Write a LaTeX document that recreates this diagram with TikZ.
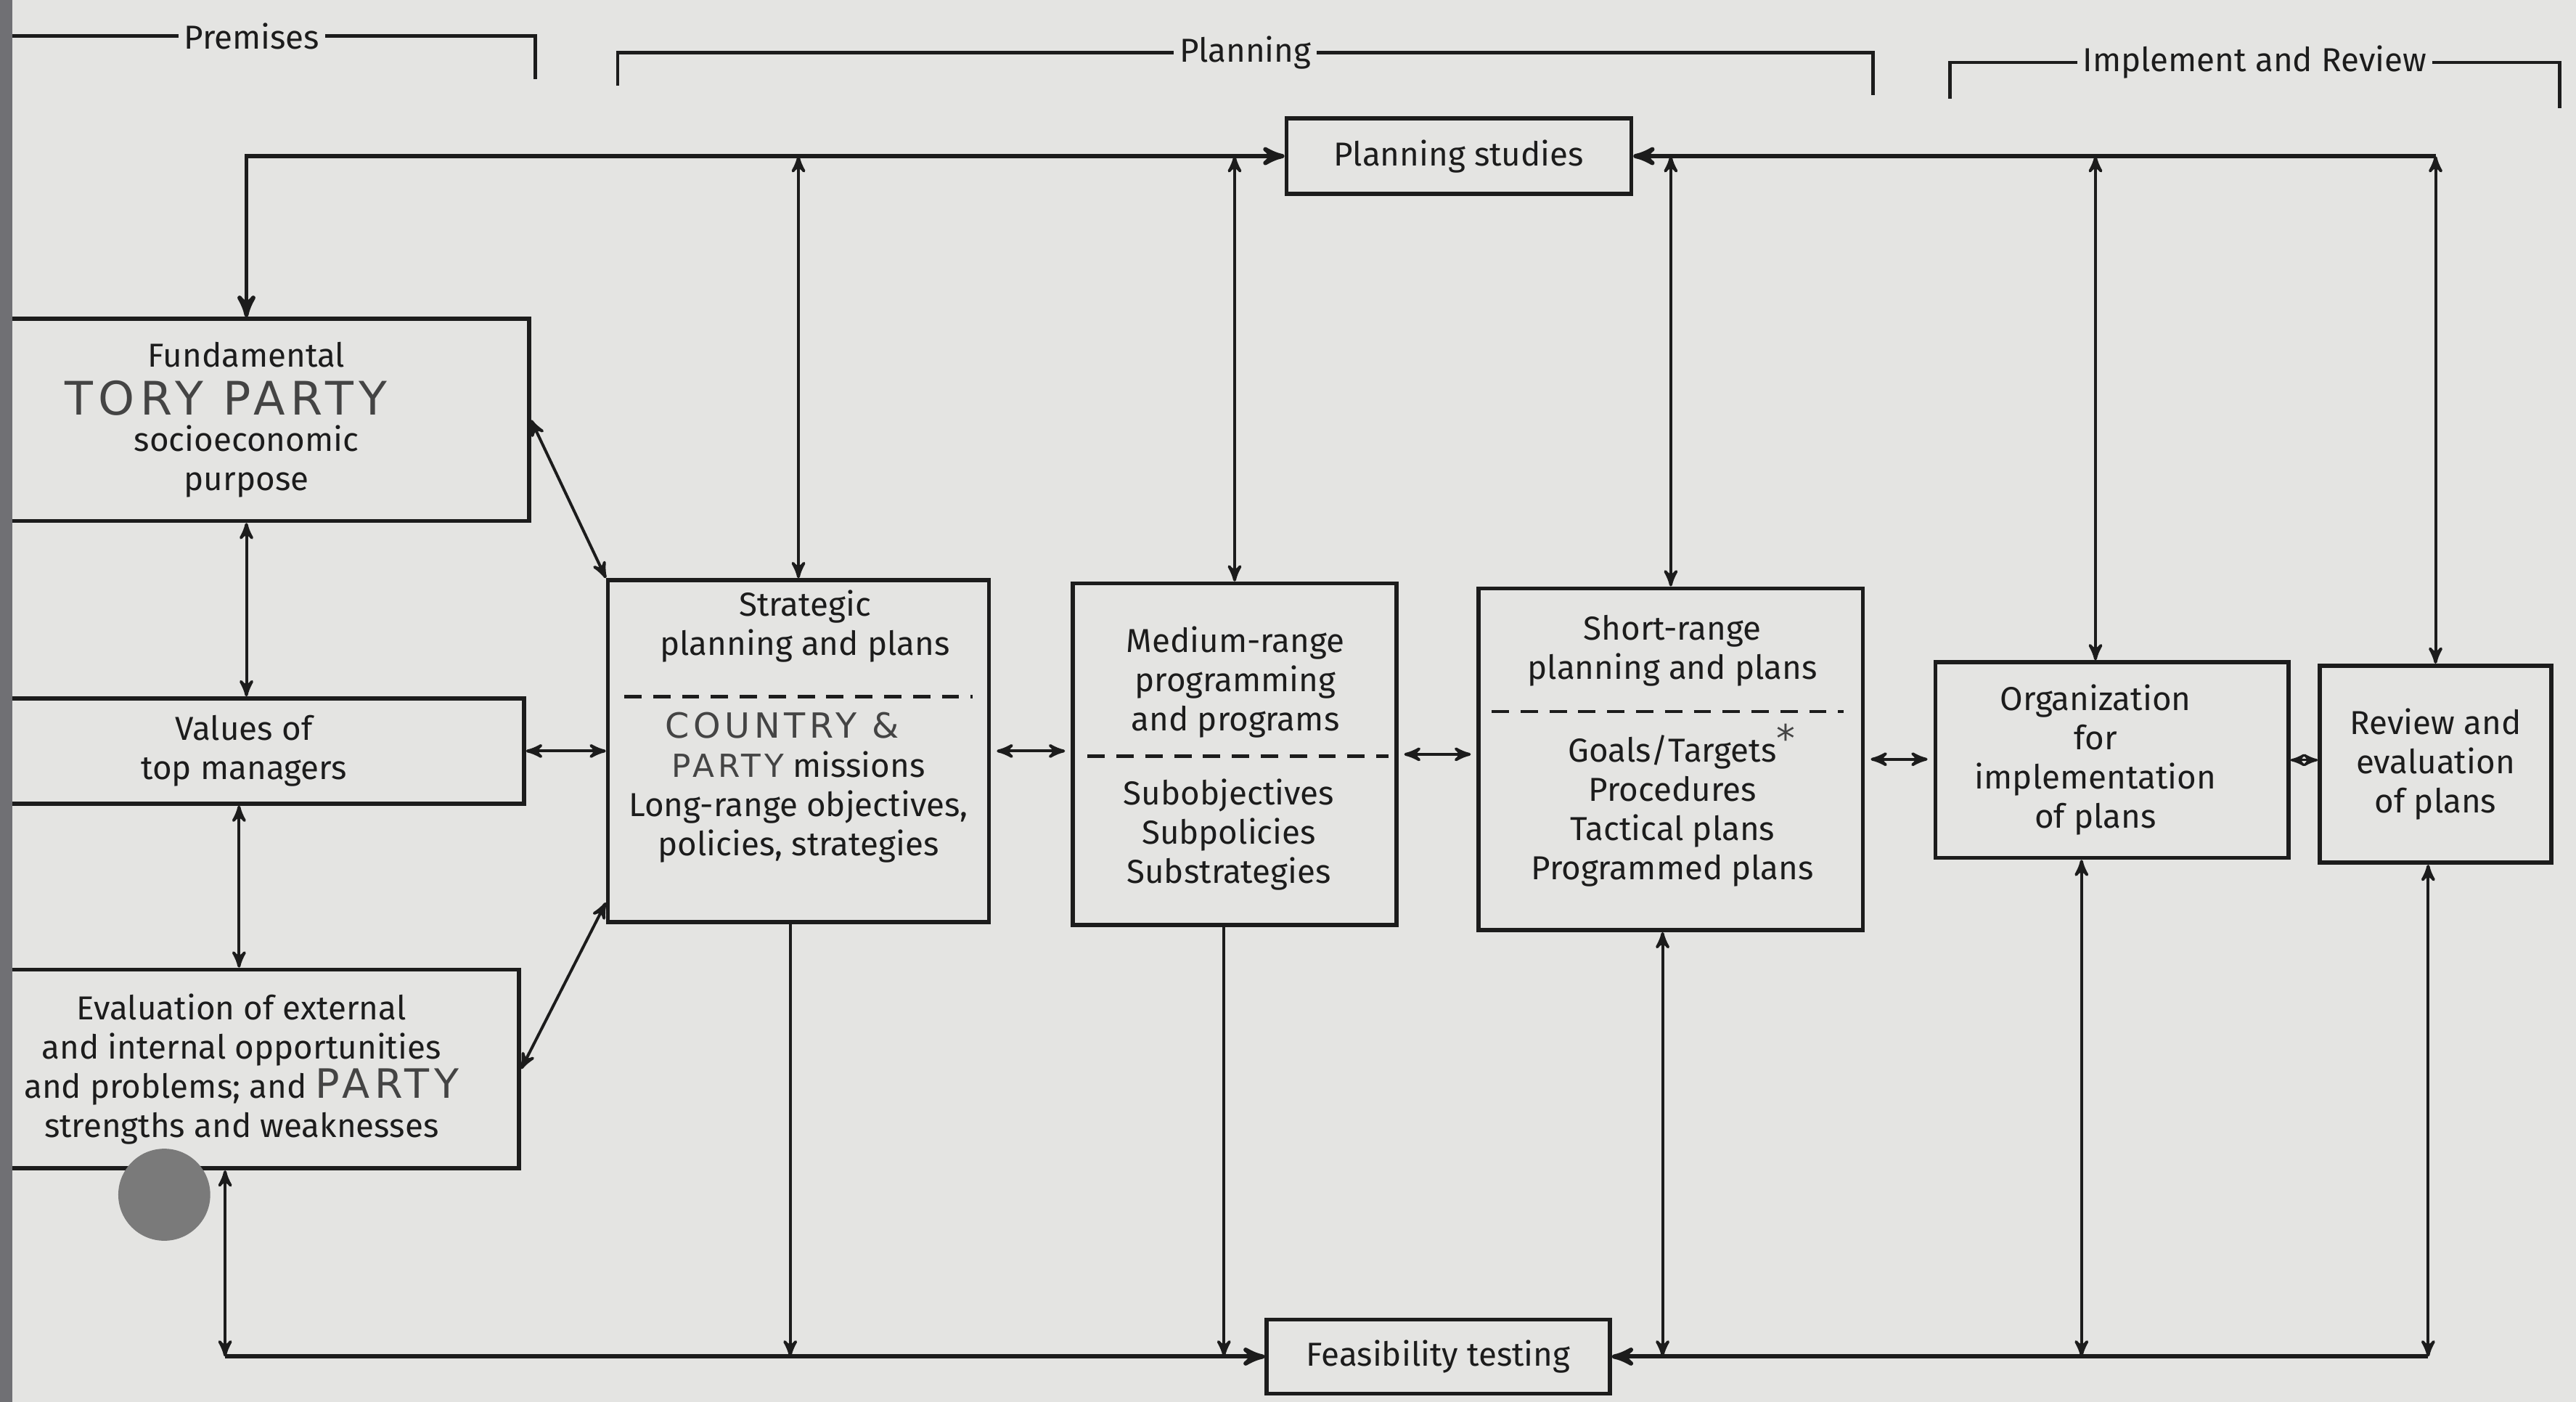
\documentclass[tikz,border=0pt]{standalone}
\usepackage{fontspec}
\setmainfont{Fira Sans}
\newfontfamily\handfont[LetterSpace=12]{DejaVu Sans}
\usepackage{tikz}
\usetikzlibrary{positioning, calc, shapes, arrows}

\definecolor{paper}{HTML}{E4E4E2}
\definecolor{scanedge}{HTML}{707074}
\definecolor{punch}{HTML}{7A7A7A}
\definecolor{ink}{HTML}{1C1C1C}
\definecolor{pencil}{HTML}{444444}

% pencilled words on the printed chart
\newcommand{\hand}[2][14]{{\handfont\fontsize{#1}{#1}\selectfont\color{pencil}#2}}

\begin{document}
\begin{tikzpicture}[x=0.02cm, y=-0.02cm, >=stealth', line width=1pt, color=ink,
  box/.style={draw=ink, line width=1.4pt, rectangle, align=center, inner sep=0pt,
    font=\fontsize{11.5}{13.6}\selectfont},
  txt/.style={align=center, inner sep=0pt, font=\fontsize{11.5}{13.6}\selectfont},
  bus/.style={line width=1.5pt},
  divider/.style={line width=1.2pt, dash pattern=on 6pt off 4pt},
  bracket/.style={line width=1.2pt},
  blabel/.style={fill=paper, inner sep=2pt, font=\fontsize{11.5}{13.6}\selectfont}]

  \fill[paper] (0,0) rectangle (1568,853);
  \useasboundingbox (0,0) rectangle (1568,853);
  \clip (0,0) rectangle (1568,853);

  % premises column
  \node[box, minimum width=6.88cm, minimum height=2.46cm] (fund) at (150,255.5)
    {Fundamental\\[3pt]\smash{\hand[16]{TORY PARTY}}\rule{0.5cm}{0pt}\\[-1pt]socioeconomic\\purpose};
  \node[box, minimum width=6.82cm, minimum height=1.28cm] (vals) at (148.5,457)
    {Values of\\top managers};
  \node[box, minimum width=6.76cm, minimum height=2.42cm] (eval) at (147,650.5)
    {Evaluation of external\\and internal opportunities\\and problems; and \smash{\hand[14]{PARTY}}\\strengths and weaknesses};

  % planning boxes
  \node[box, minimum width=4.2cm, minimum height=0.92cm] (pstud) at (888,95) {Planning studies};
  \node[box, minimum width=4.18cm, minimum height=0.9cm] (feas) at (875.5,825.5) {Feasibility testing};

  \node[box, minimum width=4.64cm, minimum height=4.16cm] (strat) at (486,457) {};
  \node[txt] (strattop) at (490,381) {Strategic\\planning and plans};
  \node[txt] (stratbot) at (486,487) {\smash{\hand[12]{COUNTRY \&}}\rule{0.4cm}{0pt}\\\smash{\hand[11]{PARTY}} missions\\Long-range objectives,\\policies, strategies};
  \draw[divider] (380,424) -- (592,424);

  \node[box, minimum width=3.94cm, minimum height=4.16cm] (med) at (751.5,459) {};
  \node[txt] (medtop) at (752,415) {Medium-range\\programming\\and programs};
  \node[txt] (medbot) at (748,508) {Subobjectives\\Subpolicies\\Substrategies};
  \draw[divider] (662,460) -- (845,460);

  \node[box, minimum width=4.68cm, minimum height=4.16cm] (short) at (1017,462) {};
  \node[txt] (shorttop) at (1018,396) {Short-range\\planning and plans};
  \node[txt] (shortbot) at (1018,490) {Goals/Targets\rlap{\raisebox{0.6ex}{\hand[13]{*}}}\\Procedures\\Tactical plans\\Programmed plans};
  \draw[divider] (908,433) -- (1122,433);

  % implement and review
  \node[box, minimum width=4.3cm, minimum height=2.38cm] (org) at (1285.5,462.5)
    {Organization\rule{0.4cm}{0pt}\\for\rule{0.4cm}{0pt}\\implementation\rule{0.4cm}{0pt}\\of plans\rule{0.4cm}{0pt}};
  \node[box, minimum width=2.82cm, minimum height=2.4cm] (rev) at (1482.5,465)
    {Review and\\evaluation\\of plans};

  % headings
  \draw[bracket] (0,22) -- node[blabel, pos=0.47] (premlbl) {Premises} (326,22) -- (326,48);
  \draw[bracket] (376,52) -- (376,32) -- node[blabel] (planlbl) {Planning} (1140,32) -- (1140,58);
  \draw[bracket] (1187,60) -- (1187,38) -- node[blabel] (implbl) {Implement and Review} (1558,38) -- (1558,66);

  % top bus
  \coordinate (orgtop) at ([xshift=-0.2cm]org.north);
  \draw[bus,<->] (pstud.west) -| (fund.north);
  \draw[bus,->] (rev.north |- pstud.east) -- (pstud.east);
  \draw[<->] (rev.north |- pstud.east) -- (rev.north);
  \path[<->]
    (strat.north |- pstud.west) edge (strat.north)
    (med.north |- pstud.west) edge (med.north)
    (short.north |- pstud.east) edge (short.north)
    (orgtop |- pstud.east) edge (orgtop);

  % bottom bus
  \coordinate (evalfoot) at ([xshift=-0.2cm]eval.south);
  \coordinate (stratfoot) at ([xshift=-0.1cm]strat.south);
  \coordinate (medfoot) at ([xshift=-0.13cm]med.south);
  \coordinate (shortfoot) at ([xshift=-0.1cm]short.south);
  \coordinate (orgfoot) at ([xshift=-0.37cm]org.south);
  \coordinate (revfoot) at ([xshift=-0.09cm]rev.south);
  \draw[bus,->] (evalfoot |- feas.west) -- (feas.west);
  \draw[<->] (evalfoot |- feas.west) -- (evalfoot);
  \draw[->] (stratfoot) -- (stratfoot |- feas.west);
  \draw[->] (medfoot) -- (medfoot |- feas.west);
  \draw[bus,->] (revfoot |- feas.east) -- (feas.east);
  \path[<->]
    (shortfoot) edge (shortfoot |- feas.east)
    (orgfoot) edge (orgfoot |- feas.east)
    (revfoot) edge (revfoot |- feas.east);

  % links between boxes
  \coordinate (valsfoot) at ([xshift=-0.06cm]vals.south);
  \path[<->]
    (fund.south) edge (fund.south |- vals.north)
    (valsfoot) edge (valsfoot |- eval.north)
    (fund.east) edge (strat.north west)
    (vals.east) edge (strat.west)
    (eval.east) edge ([yshift=0.26cm]strat.south west);
  \path[<->, line width=0.8pt]
    (org.east) edge (org.east -| rev.west);
  \path[<->, shorten <=2pt, shorten >=2pt]
    (strat.east) edge (strat.east -| med.west)
    (med.east) edge (med.east -| short.west)
    (short.east) edge (short.east -| org.west);

  \fill[scanedge] (0,0) rectangle (7.5,853);
  \fill[punch] (100,727) circle[radius=0.56cm];
\end{tikzpicture}
\end{document}
